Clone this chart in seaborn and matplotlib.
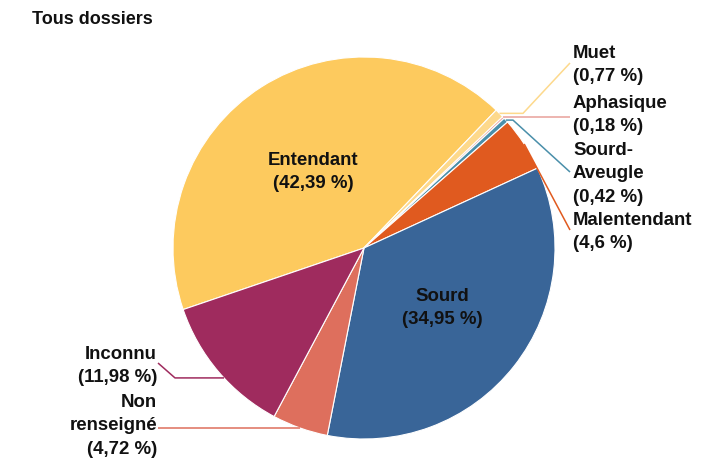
import numpy as np
import matplotlib
matplotlib.use("Agg")
import matplotlib.pyplot as plt
import seaborn as sns

# data
categories = ["Entendant", "Muet", "Aphasique", "Sourd-Aveugle",
              "Malentendant", "Sourd", "Non renseigné", "Inconnu"]
shares = [42.39, 0.77, 0.18, 0.42, 4.6, 34.95, 4.72, 11.98]
label_texts = ["Entendant", "Muet", "Aphasique", "Sourd-\nAveugle",
               "Malentendant", "Sourd", "Non\nrenseigné", "Inconnu"]
colors = ["#FDCA5E", "#FDD98C", "#E8A09A", "#4A8FAA",
          "#E05A1F", "#396598", "#DE6F5D", "#9F2B5E"]

W, H = 721, 458
sns.set_theme(style="white")
plt.rcParams["font.family"] = ["Liberation Sans", "DejaVu Sans"]


def px(x, y):
    # image pixel coords (origin top-left) -> axes coords
    return x, H - y


def fmt(v):
    return f"{v:g}".replace(".", ",") + " %"


fig = plt.figure(figsize=(W / 100, H / 100), dpi=100)
ax = fig.add_axes([0, 0, 1, 1])

cx, cy = px(364, 248)
R = 191
wedges, _ = ax.pie(shares, colors=colors, startangle=198.8, counterclock=False,
                   center=(cx, cy), radius=R,
                   wedgeprops=dict(edgecolor="white", linewidth=0.8))
ax.set_xlim(0, W)
ax.set_ylim(0, H)
ax.axis("off")

fs = 13.4
ls = 1.5

# labels inside the big slices
inside = {"Entendant": (313, 172), "Sourd": (442, 308)}
for name, (x, y) in inside.items():
    i = categories.index(name)
    ax.text(*px(x, y), f"{label_texts[i]}\n({fmt(shares[i])})", ha="center",
            va="center", fontsize=fs, fontweight="bold", linespacing=ls,
            color="#111111")

# outside labels: text anchor, leader path (angle nudge, elbow x, end point)
outside = {
    "Muet": dict(txt=(573, 65), ha="left", da=0, elbow=523, end=(570, 63)),
    "Aphasique": dict(txt=(573, 115), ha="left", da=0, elbow=None, end=(570, None)),
    "Sourd-Aveugle": dict(txt=(573, 174), ha="left", da=0, elbow=513, end=(570, 172)),
    "Malentendant": dict(txt=(573, 232), ha="left", da=0, elbow=None, end=(570, 230)),
    "Inconnu": dict(txt=(157, 366), ha="right", da=2.5, elbow=175, end=(158, 363)),
    "Non renseigné": dict(txt=(157, 426), ha="right", da=0, elbow=None, end=(158, None)),
}
for name, o in outside.items():
    i = categories.index(name)
    w = wedges[i]
    mid = np.deg2rad((w.theta1 + w.theta2) / 2 + o["da"])
    sx, sy = cx + R * np.cos(mid), cy + R * np.sin(mid)
    ex, ey = px(o["end"][0], o["end"][1] if o["end"][1] is not None else H - sy)
    xs, ys = [sx], [sy]
    if o["elbow"] is not None:
        xs.append(o["elbow"])
        ys.append(sy)
    xs.append(ex)
    ys.append(ey)
    ax.plot(xs, ys, color=colors[i], lw=1.1, solid_capstyle="butt")
    tx, ty = px(*o["txt"])
    ax.text(tx, ty, f"{label_texts[i]}\n({fmt(shares[i])})", ha=o["ha"],
            va="center", fontsize=fs, fontweight="bold", linespacing=ls,
            color="#111111")

ax.text(*px(32, 20), "Tous dossiers", ha="left", va="center", fontsize=13,
        fontweight="bold", color="#111111")

fig.savefig("out.png", dpi=100)
